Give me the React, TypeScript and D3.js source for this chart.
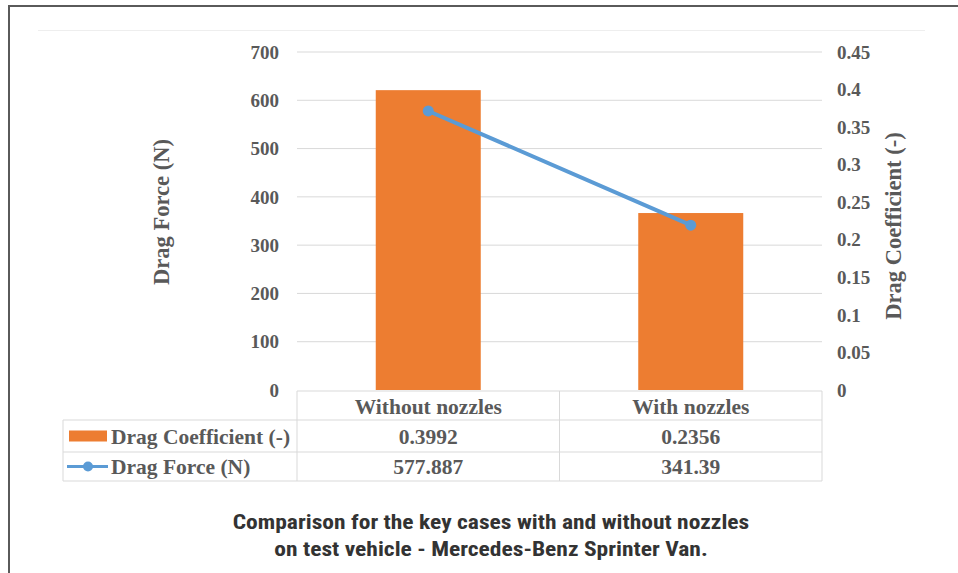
import React from "react";
import * as d3 from "d3";

// Chart data
const categories: string[] = ["Without nozzles", "With nozzles"];
const dragCoefficient: number[] = [0.3992, 0.2356];
const dragForce: number[] = [577.887, 341.39];
const forceTicks: number[] = [0, 100, 200, 300, 400, 500, 600, 700];
const coefTicks: number[] = [0, 0.05, 0.1, 0.15, 0.2, 0.25, 0.3, 0.35, 0.4, 0.45];
const seriesNames: string[] = ["Drag Coefficient (-)", "Drag Force (N)"];
const captionLines: string[] = [
  "Comparison for the key cases with and without nozzles",
  "on test vehicle - Mercedes-Benz Sprinter Van.",
];

const W = 958;
const H = 573;
const plotLeft = 297;
const plotRight = 822;
const plotTop = 52;
const plotBottom = 390;
const tableLeft = 63;
const rowBounds = [391, 420, 452, 481];

const ORANGE = "#ED7D31";
const BLUE = "#5B9BD5";
const TEXT = "#595959";
const GRID = "#D9D9D9";
const SERIF = "'Liberation Serif', 'DejaVu Serif', serif";
const NARROW = "'Liberation Sans Narrow', 'Roboto Condensed', Roboto, sans-serif";

type TProps = {
  x: number;
  y: number;
  size: number;
  anchor?: "start" | "middle" | "end";
  sx?: number;
  rotate?: number;
  family?: string;
  fill?: string;
  children: React.ReactNode;
};

// Bold label drawn at (x, y), vertically centred, optionally widened or rotated.
function T({ x, y, size, anchor = "start", sx = 1, rotate = 0, family = SERIF, fill = TEXT, children }: TProps) {
  return (
    <text
      transform={`translate(${x},${y}) rotate(${rotate}) scale(${sx},1)`}
      dy="0.35em"
      textAnchor={anchor}
      fontFamily={family}
      fontWeight="bold"
      fontSize={size}
      fill={fill}
    >
      {children}
    </text>
  );
}

export default function App() {
  const x = d3.scaleBand<string>().domain(categories).range([plotLeft, plotRight]);
  const yForce = d3.scaleLinear().domain([0, 700]).range([plotBottom, plotTop]);
  const yCoef = d3.scaleLinear().domain([0, 0.45]).range([plotBottom, plotTop]);
  const barW = x.bandwidth() * 0.4;
  const cx = (c: string) => (x(c) as number) + x.bandwidth() / 2;
  const fmtCoef = d3.format("~g");

  const linePath = d3
    .line<number>()
    .x((_, i) => cx(categories[i]))
    .y((d) => yForce(d))(dragForce) as string;

  const rowMid = (i: number) => (rowBounds[i] + rowBounds[i + 1]) / 2;
  const colEdges = [plotLeft, ...categories.map((c) => (x(c) as number) + x.bandwidth())];

  return (
    <svg
      width={W}
      height={H}
      style={{ position: "absolute", left: 0, top: 0, display: "block", background: "#fff" }}
    >
      <rect x={0} y={0} width={W} height={H} fill="#fff" />
      {/* frame */}
      <line x1={8} x2={W} y1={6} y2={6} stroke="#5a5a5a" strokeWidth={2} />
      <line x1={9} x2={9} y1={5} y2={H} stroke="#5a5a5a" strokeWidth={2} />
      <line x1={38} x2={925} y1={30.5} y2={30.5} stroke="#eeeeee" strokeWidth={1} />

      {/* gridlines */}
      {forceTicks.slice(1).map((t) => (
        <line
          key={"g" + t}
          x1={plotLeft}
          x2={plotRight}
          y1={yForce(t)}
          y2={yForce(t)}
          stroke={GRID}
          strokeWidth={1}
        />
      ))}

      {/* left axis labels */}
      {forceTicks.map((t) => (
        <T key={"lf" + t} x={279} y={yForce(t)} size={19} anchor="end">
          {t}
        </T>
      ))}

      {/* right axis labels */}
      {coefTicks.map((t) => (
        <T key={"rc" + t} x={837} y={yCoef(t)} size={19}>
          {fmtCoef(t)}
        </T>
      ))}

      {/* axis titles */}
      <T x={161} y={212} size={22.5} anchor="middle" rotate={-90}>
        Drag Force (N)
      </T>
      <T x={893} y={226} size={22.5} anchor="middle" rotate={-90}>
        Drag Coefficient (-)
      </T>

      {/* bars */}
      {categories.map((c, i) => (
        <rect
          key={"b" + c}
          x={cx(c) - barW / 2}
          y={yCoef(dragCoefficient[i])}
          width={barW}
          height={plotBottom - yCoef(dragCoefficient[i])}
          fill={ORANGE}
        />
      ))}

      {/* line */}
      <path d={linePath} fill="none" stroke={BLUE} strokeWidth={4} strokeLinecap="round" />
      {dragForce.map((v, i) => (
        <circle key={"p" + i} cx={cx(categories[i])} cy={yForce(v)} r={5.5} fill={BLUE} />
      ))}

      {/* data table */}
      <g stroke={GRID} strokeWidth={1} fill="none">
        <line x1={plotLeft} x2={plotRight} y1={rowBounds[0]} y2={rowBounds[0]} />
        {rowBounds.slice(1).map((y) => (
          <line key={"rl" + y} x1={tableLeft} x2={plotRight} y1={y} y2={y} />
        ))}
        <line x1={tableLeft} x2={tableLeft} y1={rowBounds[1]} y2={rowBounds[3]} />
        {colEdges.map((xe) => (
          <line key={"cl" + xe} x1={xe} x2={xe} y1={rowBounds[0]} y2={rowBounds[3]} />
        ))}
      </g>

      {categories.map((c) => (
        <T key={"h" + c} x={cx(c)} y={rowMid(0) + 0.5} size={21.5} anchor="middle">
          {c}
        </T>
      ))}

      {/* legend keys */}
      <rect x={69} y={rowMid(1) - 5.5} width={38} height={11} fill={ORANGE} />
      <line x1={67} x2={108} y1={rowMid(2)} y2={rowMid(2)} stroke={BLUE} strokeWidth={3} />
      <circle cx={88} cy={rowMid(2)} r={5} fill={BLUE} />

      {seriesNames.map((n, r) => (
        <T key={"sn" + n} x={111} y={rowMid(r + 1)} size={21.5}>
          {n}
        </T>
      ))}

      {[dragCoefficient, dragForce].map((vals, r) =>
        vals.map((v, i) => (
          <T key={"v" + r + i} x={cx(categories[i])} y={rowMid(r + 1)} size={21.5} anchor="middle">
            {String(v)}
          </T>
        ))
      )}

      {/* caption */}
      {captionLines.map((l, i) => (
        <T
          key={"cap" + i}
          x={491}
          y={522 + i * 27}
          size={21}
          sx={1.12}
          anchor="middle"
          family={NARROW}
          fill="#333333"
        >
          {l}
        </T>
      ))}
    </svg>
  );
}
